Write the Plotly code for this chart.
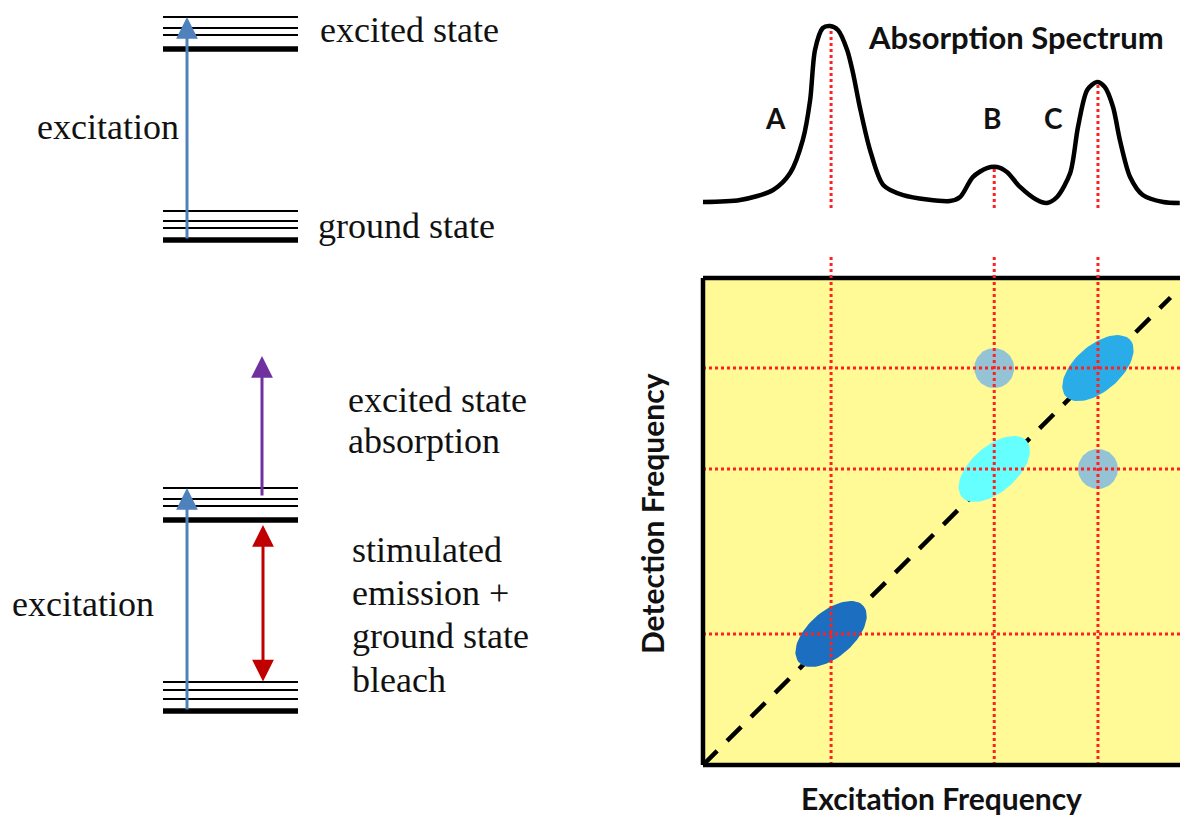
import numpy as np
import plotly.graph_objects as go

# ---------------- data ----------------
# Absorption spectrum (excitation frequency, absorbance)
SPEC_FREQ = [0.00, 0.76, 1.44, 1.79, 2.05, 2.20, 2.30, 2.46, 2.61, 2.77, 2.96, 3.08, 3.22, 3.43,
             3.70, 4.11, 5.07, 5.28, 5.54, 5.83, 6.04, 6.24, 6.51, 6.86, 7.06, 7.27, 7.54, 7.70,
             7.89, 8.09, 8.25, 8.42, 8.56, 8.77, 9.03, 9.45, 9.79]
SPEC_ABS = [0.033, 0.044, 0.10, 0.194, 0.378, 0.60, 0.878, 1.0, 1.011, 0.989, 0.878, 0.75, 0.561,
            0.322, 0.128, 0.072, 0.039, 0.061, 0.172, 0.222, 0.228, 0.20, 0.117, 0.044, 0.028,
            0.061, 0.194, 0.45, 0.656, 0.70, 0.672, 0.561, 0.378, 0.172, 0.072, 0.033, 0.028]

PEAK_LABELS = ["A", "B", "C"]
PEAK_EXC = [2.63, 5.98, 8.11]       # excitation frequency of peaks
PEAK_DET = [2.69, 6.08, 8.15]       # detection frequency of peaks
PEAK_HEIGHT = [1.0, 0.228, 0.70]    # absorbance at peaks
LABEL_EXC = [1.48, 5.93, 7.19]
LABEL_ABS = [0.50, 0.50, 0.50]

DIAG_COLORS = ["#1B6EC0", "#66FFFF", "#29ACE8"]
CROSS_PEAKS = [(1, 2), (2, 1)]      # (excitation idx, detection idx)
CROSS_COLOR = "#93C3D5"

# Energy-level diagrams (diagram units = px)
LEVEL_X = [163, 298]
TOP_EXCITED = [17, 28, 35]
TOP_EXCITED_BASE = 49
TOP_GROUND = [211, 221, 228]
TOP_GROUND_BASE = 240
BOT_EXCITED = [488, 499, 506]
BOT_EXCITED_BASE = 520
BOT_GROUND = [682, 690, 699]
BOT_GROUND_BASE = 711

SERIF_TEXTS = [
    ("excited state", 318, 30), ("excitation", 35, 127), ("ground state", 316, 226),
    ("excited state", 346, 400), ("absorption", 346, 441),
    ("stimulated", 350, 550), ("emission +", 350, 593), ("ground state", 350, 636),
    ("bleach", 350, 680), ("excitation", 10, 604),
]

# arrows: (x, tip_y, tail_y, color, double)
ARROWS = [
    (187, 17, 240, "#4F81BD", False),
    (187, 488, 711, "#4F81BD", False),
    (262, 356, 497, "#7030A0", False),
    (263, 525, 683, "#C00000", True),
]

# ---------------- figure ----------------
W, H = 1180, 818
PX = 48.7  # px per frequency unit
BOX_L, BOX_B = 703, 765
PAD = 0.2
x2_range = [-PAD, (W - BOX_L) / PX]
y2_range = [-PAD, 10 + PAD]
x2_dom = [(BOX_L - PAD * PX) / W, 1]
y2_dom = [(H - (BOX_B + PAD * PX)) / H, (H - (BOX_B - (10 + PAD) * PX)) / H]

fig = go.Figure()

# ---- left diagram (axis x/y, px units) ----
def level(y, w):
    fig.add_trace(go.Scatter(x=LEVEL_X, y=[y, y], mode="lines", line=dict(color="black", width=w),
                             xaxis="x", yaxis="y", hoverinfo="skip", showlegend=False))

for ys, base in [(TOP_EXCITED, TOP_EXCITED_BASE), (TOP_GROUND, TOP_GROUND_BASE),
                 (BOT_EXCITED, BOT_EXCITED_BASE), (BOT_GROUND, BOT_GROUND_BASE)]:
    for y in ys:
        level(y, 2)
    level(base, 5.5)

annotations = []
for (x, tip, tail, col, dbl) in ARROWS:
    annotations.append(dict(x=x, y=tip, ax=x, ay=tail, xref="x", yref="y", axref="x", ayref="y",
                            text="", showarrow=True, arrowhead=2, arrowsize=1.45, arrowwidth=3,
                            arrowcolor=col, standoff=0, startstandoff=0,
                            startarrowhead=2, startarrowsize=1.45,
                            arrowside="end+start" if dbl else "end"))

for (t, x, y) in SERIF_TEXTS:
    annotations.append(dict(x=x, y=y, xref="x", yref="y", text=t, showarrow=False,
                            xanchor="left", yanchor="middle",
                            font=dict(family="Liberation Serif", size=36, color="#111")))

# ---- 2D spectrum box (x2/y2) ----
fig.add_trace(go.Scatter(x=[0, 10, 10, 0, 0], y=[0, 0, 10, 10, 0], fill="toself",
                         fillcolor="#FFFA96", line=dict(width=0), mode="lines",
                         xaxis="x2", yaxis="y2", hoverinfo="skip", showlegend=False))
fig.add_trace(go.Scatter(x=[0, 9.6], y=[0, 9.6], mode="lines",
                         line=dict(color="black", width=4.5, dash="20px,14px"),
                         xaxis="x2", yaxis="y2", hoverinfo="skip", showlegend=False))

def ellipse(cx, cy, a, b, ang_deg):
    t = np.linspace(0, 2 * np.pi, 80)
    ang = np.deg2rad(ang_deg)
    ex = a * np.cos(t)
    ey = b * np.sin(t)
    return cx + ex * np.cos(ang) - ey * np.sin(ang), cy + ex * np.sin(ang) + ey * np.cos(ang)

for i in range(3):
    ex, ey = ellipse(PEAK_EXC[i], PEAK_DET[i], 0.88, 0.47, 41)
    fig.add_trace(go.Scatter(x=ex, y=ey, fill="toself", fillcolor=DIAG_COLORS[i], mode="lines",
                             line=dict(width=0), xaxis="x2", yaxis="y2",
                             hoverinfo="skip", showlegend=False))
for (i, j) in CROSS_PEAKS:
    ex, ey = ellipse(PEAK_EXC[i], PEAK_DET[j], 0.41, 0.41, 0)
    fig.add_trace(go.Scatter(x=ex, y=ey, fill="toself", fillcolor=CROSS_COLOR, mode="lines",
                             line=dict(width=0), xaxis="x2", yaxis="y2",
                             hoverinfo="skip", showlegend=False))

RED = "#FF2020"
DOT = dict(color=RED, width=3, dash="3px,3px")
for i in range(3):
    fig.add_trace(go.Scatter(x=[PEAK_EXC[i], PEAK_EXC[i]], y=[0, 10], mode="lines", line=DOT,
                             xaxis="x2", yaxis="y2", hoverinfo="skip", showlegend=False))
    fig.add_trace(go.Scatter(x=[0, 10], y=[PEAK_DET[i], PEAK_DET[i]], mode="lines", line=DOT,
                             xaxis="x2", yaxis="y2", hoverinfo="skip", showlegend=False))

# borders (left, bottom, top)
for bx, by in [([0, 0], [0, 10]), ([0, 10], [0, 0]), ([0, 10], [10, 10])]:
    fig.add_trace(go.Scatter(x=bx, y=by, mode="lines", line=dict(color="black", width=4.5),
                             xaxis="x2", yaxis="y2", hoverinfo="skip", showlegend=False))

# ---- absorption spectrum (x3/y3) ----
ABS_PER_PX = 1 / 180.0
y3_bottom_px, y3_base_px = 278, 208
y3_range = [(y3_base_px - y3_bottom_px) * ABS_PER_PX, y3_base_px * ABS_PER_PX]
for i in range(3):
    fig.add_trace(go.Scatter(x=[PEAK_EXC[i], PEAK_EXC[i]], y=[0, PEAK_HEIGHT[i]], mode="lines",
                             line=DOT, xaxis="x3", yaxis="y3", hoverinfo="skip", showlegend=False))
    fig.add_trace(go.Scatter(x=[PEAK_EXC[i], PEAK_EXC[i]],
                             y=[(y3_base_px - 257) * ABS_PER_PX, y3_range[0]], mode="lines",
                             line=DOT, xaxis="x3", yaxis="y3", hoverinfo="skip", showlegend=False))

fig.add_trace(go.Scatter(x=SPEC_FREQ, y=SPEC_ABS, mode="lines",
                         line=dict(color="black", width=4.5, shape="spline", smoothing=0.8),
                         xaxis="x3", yaxis="y3", hoverinfo="skip", showlegend=False))

SANS = "Lato"
for lab, lx, ly in zip(PEAK_LABELS, LABEL_EXC, LABEL_ABS):
    annotations.append(dict(x=lx, y=ly, xref="x3", yref="y3", text="<b>%s</b>" % lab,
                            showarrow=False, font=dict(family=SANS, size=28, color="#111")))
annotations.append(dict(x=1016, y=37, xref="x", yref="y", text="<b>Absorption Spectrum</b>",
                        showarrow=False, font=dict(family=SANS, size=31, color="#111")))
annotations.append(dict(x=941, y=798, xref="x", yref="y", text="<b>Excitation Frequency</b>",
                        showarrow=False, font=dict(family=SANS, size=30, color="#111")))
annotations.append(dict(x=652, y=514, xref="x", yref="y", text="<b>Detection Frequency</b>",
                        showarrow=False, textangle=-90, font=dict(family=SANS, size=30, color="#111")))

hidden = dict(visible=False, fixedrange=True, showgrid=False, zeroline=False)
fig.update_layout(
    width=W, height=H, margin=dict(l=0, r=0, t=0, b=0),
    paper_bgcolor="white", plot_bgcolor="rgba(0,0,0,0)",
    xaxis=dict(hidden, domain=[0, 1], range=[0, W]),
    yaxis=dict(hidden, domain=[0, 1], range=[H, 0]),
    xaxis2=dict(hidden, domain=x2_dom, range=x2_range, anchor="y2"),
    yaxis2=dict(hidden, domain=y2_dom, range=y2_range, anchor="x2"),
    xaxis3=dict(hidden, domain=x2_dom, range=x2_range, anchor="y3"),
    yaxis3=dict(hidden, domain=[(H - y3_bottom_px) / H, 1], range=y3_range, anchor="x3"),
    annotations=annotations,
    showlegend=False,
)
fig.write_html("out.html")
